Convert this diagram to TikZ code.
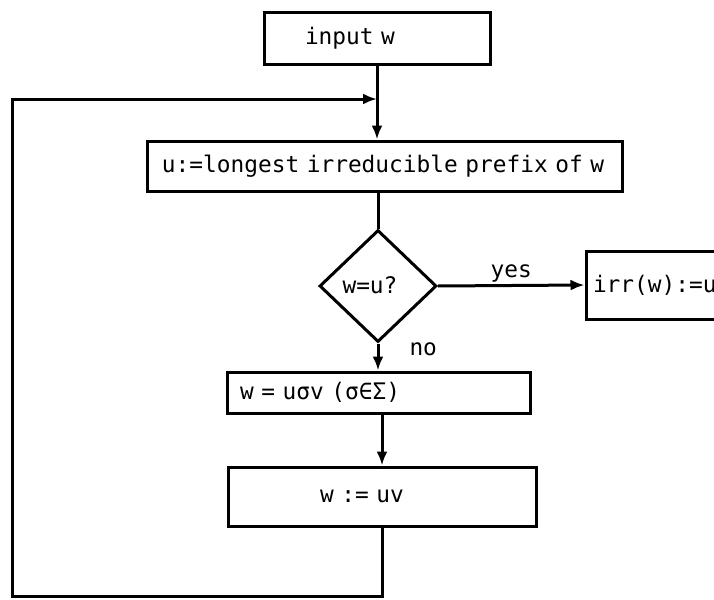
\documentclass[tikz,border=0pt]{standalone}
\usepackage{fontspec}
\newfontfamily\flowfont{DejaVu Sans Mono}
\usetikzlibrary{shapes.geometric,arrows.meta}
\tikzset{
  every node/.style={font=\flowfont\fontsize{11.4pt}{13pt}\selectfont},
  flowbox/.style={draw, line width=1.5pt, rectangle, align=left, inner ysep=0pt},
  decide/.style={draw, line width=1.5pt, diamond, inner sep=0pt, minimum width=58.5pt, minimum height=56pt},
  flow/.style={line width=1.5pt},
  flowarrow/.style={line width=1.5pt, -{Latex[length=7pt,width=5.5pt]}},
  tag/.style={inner sep=1pt}
}
\begin{document}
\begin{tikzpicture}[x=0.5pt,y=-0.5pt]
\clip (0,0) rectangle (714,600);
\fill[white] (0,0) rectangle (714,600);

\node[flowbox, minimum height=26pt, inner xsep=20.5pt, text width=72pt] (input) at (377,38) {input w};
\node[flowbox, minimum height=25pt, inner xsep=7.5pt, text width=222.5pt] (box2) at (384.5,166) {u:=longest irreducible prefix of w};
\node[decide] (dia) at (378,286) {};
\node[tag] (dialabel) at (370,285) {w=u?};
\node[flowbox, minimum height=34pt, inner xsep=3.5pt, text width=73pt] (irr) at (666,285) {irr(w):=u};
\node[flowbox, minimum height=20.5pt, inner xsep=6.5pt, text width=138.5pt] (box3) at (378.5,392.5) {w = uσv (σ∈Σ)};
\node[flowbox, minimum height=29.5pt, inner xsep=46pt, text width=62pt] (box4) at (382,496.5) {w := uv};

\coordinate (bl) at (12,596);
\coordinate (tl) at (12,99);
\coordinate (join) at (377,99);

\draw[flowarrow] (input.south) -- (input.south |- box2.north);
\draw[flow] (box2.south -| dia.north) -- (dia.north);
\draw[flowarrow] (dia.east) -- (irr.west) node[tag, midway, above] (yes) {yes};
\draw[flowarrow] (dia.south) -- (dia.south |- box3.north) node[tag, pos=0.2, right, xshift=14pt] (no) {no};
\draw[flowarrow] (box3.south -| box4.north) -- (box4.north);
\draw[flowarrow] (box4.south) -- (box4.south |- bl) -- (bl) -- (tl) -- (join);
\end{tikzpicture}
\end{document}
